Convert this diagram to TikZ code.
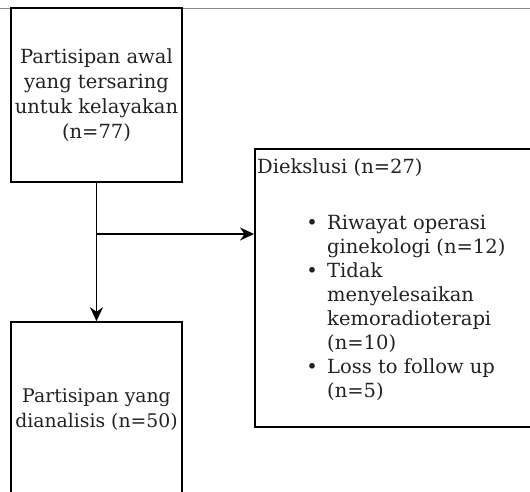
\documentclass[tikz,border=0pt]{standalone}
\usepackage{fontspec}
\setmainfont{DejaVu Serif}
\usetikzlibrary{arrows.meta}
\definecolor{txt}{HTML}{222222}
\definecolor{ln}{HTML}{000000}
\definecolor{rule}{HTML}{8C8C8C}
\tikzset{
  box/.style={draw=ln, line width=1.6pt, rectangle, inner sep=0pt, text=txt, align=center,
    font=\fontsize{19.5}{25}\selectfont},
  lbl/.style={text=txt, inner sep=0pt, font=\fontsize{19.5}{24}\selectfont},
  conn/.style={draw=ln, line width=1.6pt, -{Stealth[length=14pt,width=13pt]}},
  topline/.style={draw=rule, line width=1pt}
}
\begin{document}
\begin{tikzpicture}[x=1pt,y=-1pt]
\useasboundingbox (0,0) rectangle (530,492);
\coordinate (tl) at (0,9);
\coordinate (tr) at (530,9);
\draw[topline] (tl) -- (tr);
\node[box, minimum width=171pt, minimum height=174pt] (b1) at (96.5,95)
  {Partisipan awal\\yang tersaring\\untuk kelayakan\\(n=77)};
\node[box, minimum width=171pt, minimum height=176pt, font=\fontsize{18.8}{25}\selectfont] (b3) at (96.5,410)
  {Partisipan yang\\dianalisis (n=50)};
\node[box, anchor=north west, minimum width=300pt, minimum height=278pt] (b2) at (254,148) {};
\node[lbl, anchor=base west] (t2) at (257,173) {Diekslusi (n=27)};
\node[lbl, anchor=north west] (list) at (303,212) {%
  \begin{tabular}{@{}l@{\hspace{6pt}}l@{}}
  \makebox[18pt]{•} & Riwayat operasi\\
   & ginekologi (n=12)\\
  \makebox[18pt]{•} & Tidak\\
   & menyelesaikan\\
   & kemoradioterapi\\
   & (n=10)\\
  \makebox[18pt]{•} & Loss to follow up\\
   & (n=5)
  \end{tabular}};
\draw[conn] (b1.south) -- (b3.north);
\coordinate (jn) at (b1.south |- 0,234);
\draw[conn] (jn) -- (jn -| b2.west);
\end{tikzpicture}
\end{document}
